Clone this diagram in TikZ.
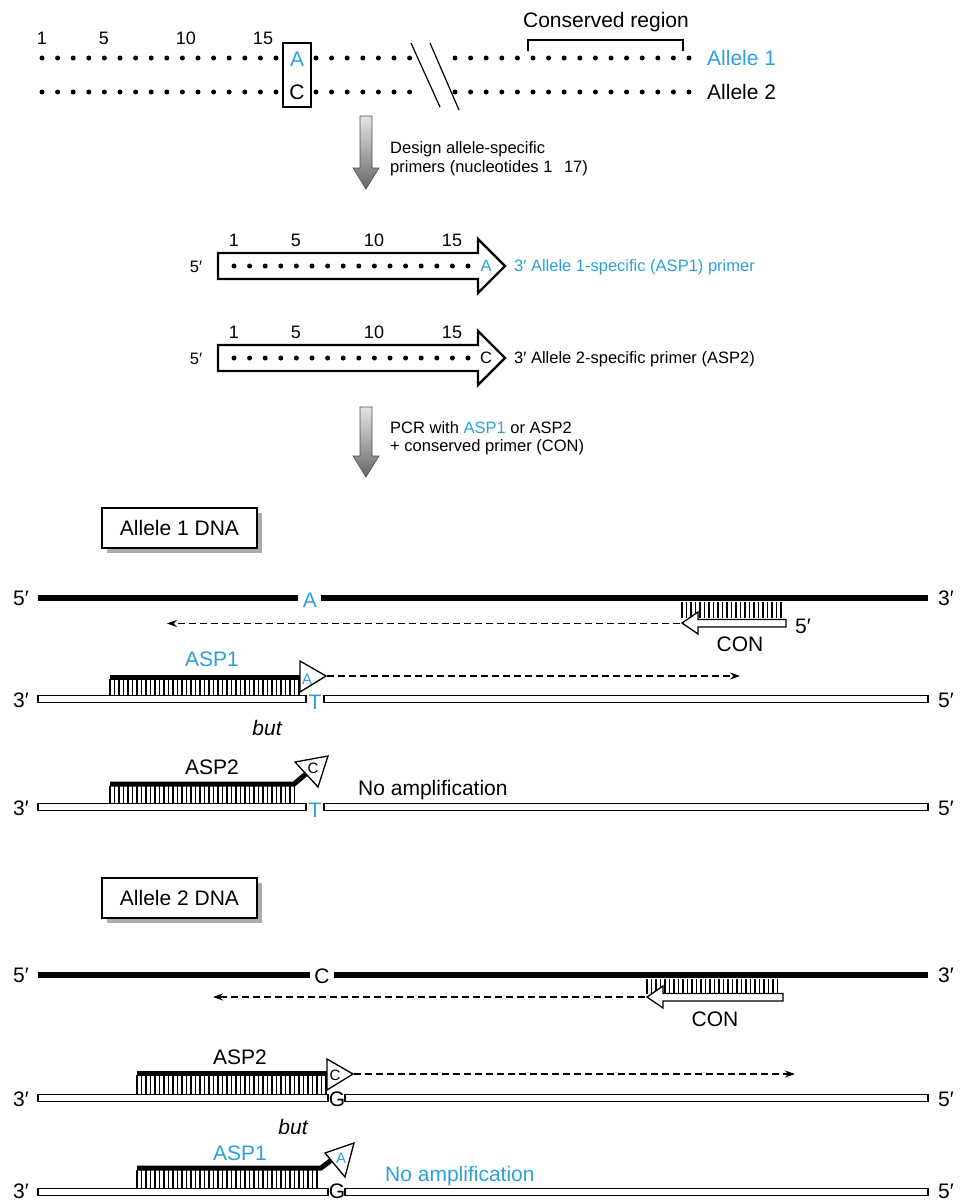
\documentclass[tikz,border=0pt]{standalone}
\usepackage{fontspec}
\setmainfont{Liberation Sans}
\usetikzlibrary{arrows.meta,shadings}
\definecolor{ablue}{RGB}{45,160,220}
\tikzset{
 txt/.style={font=\fontsize{21}{23}\selectfont, inner sep=0pt},
 midtxt/.style={font=\fontsize{16.5}{19}\selectfont, inner sep=0pt},
 num/.style={font=\fontsize{18}{20}\selectfont, inner sep=0pt},
 smalltxt/.style={font=\fontsize{15}{17}\selectfont, inner sep=0pt},
 thickstrand/.style={line width=6pt},
 openstrand/.style={draw=black, line width=1.3pt, fill=white},
 rung/.style={line width=1.1pt},
 blackbar/.style={line width=5pt, line join=round},
 openhead/.style={draw=black, line width=1.3pt, fill=white, line join=miter},
 dasharrow/.style={dash pattern=on 7pt off 4pt, line width=1.2pt, -{Stealth[length=10pt,width=7pt]}},
 dnabox/.style={draw, line width=1.3pt, fill=white, minimum width=155pt, minimum height=40pt, inner sep=0pt, font=\fontsize{21}{23}\selectfont},
 grayarrow/.style={top color=gray!20, bottom color=gray!80!black, draw=gray!60!black, line width=0.6pt},
 primerarrow/.style={draw=black, line width=2.4pt, fill=white, line join=miter}
}
\begin{document}
\begin{tikzpicture}[x=1pt,y=-1pt]
\useasboundingbox (0,0) rectangle (959,1202);

% ---------------- top: alleles ----------------
\foreach \i in {0,...,15} {
  \fill (42+15.6*\i,58) circle (2.5);
  \fill (42+15.6*\i,92) circle (2.5);
  \fill (455+15.6*\i,58) circle (2.5);
  \fill (455+15.6*\i,92) circle (2.5);
}
\foreach \i in {0,...,6} {
  \fill (316+15.6*\i,58) circle (2.5);
  \fill (316+15.6*\i,92) circle (2.5);
}
\node[num] (t1) at (42,38) {1};
\node[num] (t5) at (104,38) {5};
\node[num] (t10) at (186,38) {10};
\node[num] (t15) at (263,38) {15};
\node[draw, line width=1.3pt, minimum width=28pt, minimum height=64pt, inner sep=0pt, fill=white] (snp) at (297,75) {};
\node[txt, ablue] (snpA) at (297,59) {A};
\node[txt] (snpC) at (297,92) {C};
\draw[line width=1.2pt] (411,43) -- (440,107);
\draw[line width=1.2pt] (430,43) -- (459,110);
\draw[line width=1.3pt] (528,51) -- (528,40) -- (683,40) -- (683,51);
\node[txt] (cons) at (606,22) {Conserved region};
\node[txt, ablue, anchor=west] (al1) at (707,58) {Allele 1};
\node[txt, anchor=west] (al2) at (707,92) {Allele 2};

% gray arrow 1
\shade[grayarrow] (360,116) -- (372,116) -- (372,168) -- (379,168) -- (366,189) -- (353,168) -- (360,168) -- cycle;
\node[midtxt, anchor=west] (d1) at (390,149) {Design allele-specific};
\node[midtxt, anchor=west] (d2) at (390,168) {primers (nucleotides 1\hspace{0.7em}17)};

% ---------------- primers ----------------
\draw[primerarrow] (218,253) -- (478,253) -- (478,239) -- (505,266) -- (478,293) -- (478,279) -- (218,279) -- cycle;
\foreach \i in {0,...,15} { \fill (234+15.6*\i,266) circle (2.5); }
\node[midtxt] (p1five) at (196,267) {5′};
\node[num] (p1n1) at (234,240) {1};
\node[num] (p1n5) at (296,240) {5};
\node[num] (p1n10) at (374,240) {10};
\node[num] (p1n15) at (452,240) {15};
\node[midtxt, ablue] (p1A) at (486,266) {A};
\node[midtxt, ablue, anchor=west] (p1lab) at (514,267) {3′ Allele 1-specific (ASP1) primer};

\draw[primerarrow] (218,345) -- (478,345) -- (478,331) -- (505,358) -- (478,385) -- (478,371) -- (218,371) -- cycle;
\foreach \i in {0,...,15} { \fill (234+15.6*\i,358) circle (2.5); }
\node[midtxt] (p2five) at (196,359) {5′};
\node[num] (p2n1) at (234,332) {1};
\node[num] (p2n5) at (296,332) {5};
\node[num] (p2n10) at (374,332) {10};
\node[num] (p2n15) at (452,332) {15};
\node[midtxt] (p2C) at (486,358) {C};
\node[midtxt, anchor=west] (p2lab) at (514,359) {3′ Allele 2-specific primer (ASP2)};

% gray arrow 2
\shade[grayarrow] (360,407) -- (372,407) -- (372,456) -- (379,456) -- (366,477) -- (353,456) -- (360,456) -- cycle;
\node[midtxt, anchor=west] (pcr1) at (390,428) {PCR with \textcolor{ablue}{ASP1} or ASP2};
\node[midtxt, anchor=west] (pcr2) at (390,447) {+ conserved primer (CON)};

% ---------------- Allele 1 DNA ----------------
\fill[gray!65] (107,513) rectangle (262,553);
\node[dnabox] (box1) at (179.5,528) {Allele 1 DNA};

% top strand
\draw[thickstrand] (38,598) -- (298,598);
\draw[thickstrand] (321,598) -- (928,598);
\node[txt] (a1s5) at (21,598) {5′};
\node[txt] (a1s3) at (946,598) {3′};
\node[txt, ablue] (a1A) at (310,600) {A};

% CON primer
\foreach \x in {682,686.5,...,785} { \draw[rung] (\x,602) -- (\x,618); }
\draw[openhead] (682,623) -- (698,612) -- (698,619.5) -- (786,619.5) -- (786,627) -- (698,627) -- (698,634) -- cycle;
\node[txt] (con1five) at (803,626) {5′};
\node[txt] (con1) at (740,644) {CON};
\coordinate (c1s) at (680,623.5);
\coordinate (c1e) at (167,623.5);
\draw[dasharrow] (c1s) -- (c1e);

% ASP1 on allele 1 (extends)
\foreach \x in {110,114.5,...,299} { \draw[rung] (\x,679) -- (\x,696); }
\draw[openstrand] (38,695.5) rectangle (306,702.5);
\draw[openstrand] (324,695.5) rectangle (928,702.5);
\draw[blackbar] (110,677) -- (300,677);
\draw[openhead] (300,661) -- (326,676) -- (300,692) -- cycle;
\node[smalltxt, ablue] (a1r1A) at (307,679) {A};
\node[txt, ablue] (a1r1T) at (315,702) {T};
\node[txt] (a1r13) at (21,700) {3′};
\node[txt] (a1r15) at (946,700) {5′};
\node[txt, ablue] (asp1a) at (212,659) {ASP1};
\coordinate (e1s) at (327,676);
\coordinate (e1e) at (740,676);
\draw[dasharrow] (e1s) -- (e1e);

\node[txt, font=\fontsize{21}{23}\selectfont\itshape] (but1) at (267,728) {but};

% ASP2 on allele 1 (no amplification)
\foreach \x in {110,114.5,...,296} { \draw[rung] (\x,786) -- (\x,804); }
\draw[openstrand] (38,803.5) rectangle (306,810.5);
\draw[openstrand] (324,803.5) rectangle (928,810.5);
\draw[blackbar] (110,784) -- (294,784) -- (307,773);
\draw[openhead] (295,762) -- (328,756) -- (318,787) -- cycle;
\node[smalltxt] (a1r2C) at (313,768) {C};
\node[txt, ablue] (a1r2T) at (315,810) {T};
\node[txt] (a1r23) at (21,808) {3′};
\node[txt] (a1r25) at (946,808) {5′};
\node[txt] (asp2a) at (212,767) {ASP2};
\node[txt, anchor=west] (noamp1) at (358,790) {No amplification};

% ---------------- Allele 2 DNA ----------------
\fill[gray!65] (107,883) rectangle (262,923);
\node[dnabox] (box2) at (179.5,898) {Allele 2 DNA};

\draw[thickstrand] (38,975) -- (310,975);
\draw[thickstrand] (334,975) -- (928,975);
\node[txt] (a2s5) at (21,975) {5′};
\node[txt] (a2s3) at (946,975) {3′};
\node[txt] (a2C) at (322,976) {C};

\foreach \x in {647,651.5,...,781} { \draw[rung] (\x,979) -- (\x,994); }
\draw[openhead] (647,997) -- (663,986) -- (663,993.5) -- (783,993.5) -- (783,1001) -- (663,1001) -- (663,1008) -- cycle;
\node[txt] (con2) at (715,1019) {CON};
\coordinate (c2s) at (645,997);
\coordinate (c2e) at (213,997);
\draw[dasharrow] (c2s) -- (c2e);

% ASP2 on allele 2 (extends)
\foreach \x in {137,141.5,...,326} { \draw[rung] (\x,1075) -- (\x,1095); }
\draw[openstrand] (38,1094.5) rectangle (328,1101.5);
\draw[openstrand] (345,1094.5) rectangle (928,1101.5);
\draw[blackbar] (137,1073) -- (327,1073);
\draw[openhead] (327,1059) -- (353,1074) -- (327,1090) -- cycle;
\node[smalltxt] (a2r1C) at (335,1075) {C};
\node[txt] (a2r1G) at (337,1099) {G};
\node[txt] (a2r13) at (21,1099) {3′};
\node[txt] (a2r15) at (946,1099) {5′};
\node[txt] (asp2b) at (240,1057) {ASP2};
\coordinate (e2s) at (354,1074);
\coordinate (e2e) at (795,1074);
\draw[dasharrow] (e2s) -- (e2e);

\node[txt, font=\fontsize{21}{23}\selectfont\itshape] (but2) at (293,1127) {but};

% ASP1 on allele 2 (no amplification)
\foreach \x in {137,141.5,...,321} { \draw[rung] (\x,1170) -- (\x,1189); }
\draw[openstrand] (38,1188.5) rectangle (328,1195.5);
\draw[openstrand] (345,1188.5) rectangle (928,1195.5);
\draw[blackbar] (137,1168) -- (321,1168) -- (334,1158);
\draw[openhead] (325,1153) -- (354,1143) -- (345,1177) -- cycle;
\node[smalltxt, ablue] (a2r2A) at (341,1158) {A};
\node[txt] (a2r2G) at (337,1191) {G};
\node[txt] (a2r23) at (21,1191) {3′};
\node[txt] (a2r25) at (946,1191) {5′};
\node[txt, ablue] (asp1b) at (240,1153) {ASP1};
\node[txt, ablue, anchor=west] (noamp2) at (385,1176) {No amplification};
\end{tikzpicture}
\end{document}
